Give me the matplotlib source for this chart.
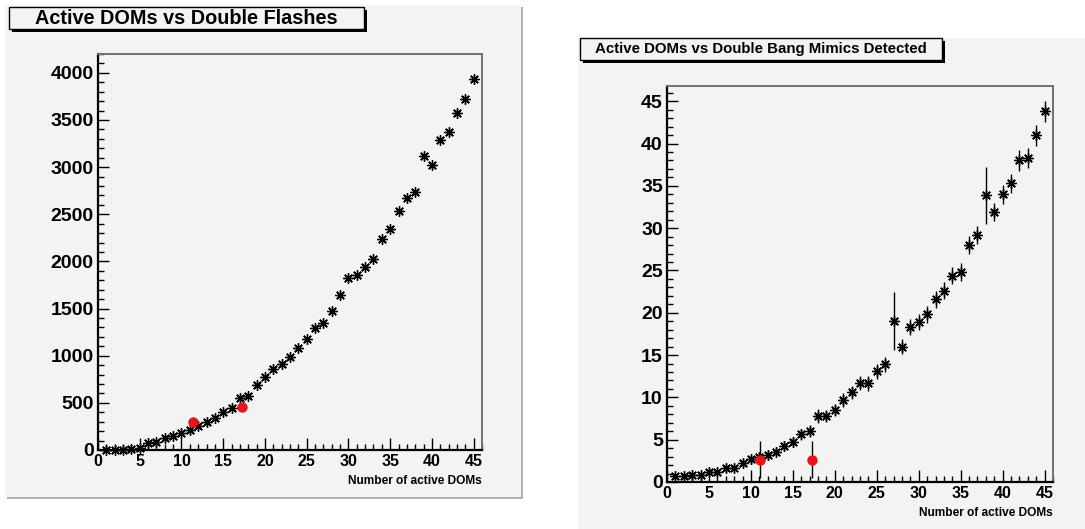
import numpy as np
import matplotlib
matplotlib.use('Agg')
import matplotlib.pyplot as plt
from matplotlib.patches import Rectangle
from matplotlib.ticker import MultipleLocator

plt.rcParams['font.family'] = ['Liberation Sans', 'DejaVu Sans']
plt.rcParams['font.weight'] = 'bold'

W, H = 1085, 529
CANVAS = '#f3f3f3'

# ---- data ----
doms = list(range(1, 46))
flashes = [0, 0, 0, 15, 20, 77, 80, 124, 148, 184,
           212, 254, 300, 343, 399, 449, 548, 573, 689, 771,
           859, 908, 983, 1085, 1174, 1297, 1343, 1474, 1644, 1821,
           1856, 1937, 2022, 2237, 2343, 2534, 2676, 2740, 3118, 3022,
           3287, 3369, 3577, 3722, 3934]
flash_red_x = [11.4, 17.25]
flash_red_y = [297, 456]

mimics = [0.71, 0.71, 0.83, 0.83, 1.14, 1.22, 1.61, 1.69, 2.2, 2.68,
          2.9, 3.19, 3.58, 4.29, 4.76, 5.67, 6.02, 7.79, 7.79, 8.5,
          9.68, 10.6, 11.73, 11.65, 13.1, 13.9, 19.0, 16.0, 18.3, 18.9,
          19.8, 21.6, 22.6, 24.4, 24.8, 28.0, 29.2, 33.9, 31.9, 34.0,
          35.3, 38.0, 38.3, 41.0, 43.8]
mimic_err = [0.3, 0.3, 0.3, 0.3, 0.35, 0.35, 0.4, 0.4, 0.45, 0.5,
             0.5, 0.55, 0.55, 0.6, 0.6, 0.65, 0.7, 0.8, 0.7, 0.75,
             0.8, 0.8, 0.85, 0.85, 0.9, 0.9, 3.4, 0.9, 0.95, 0.95,
             1.0, 1.0, 1.0, 1.05, 1.05, 1.1, 1.1, 3.35, 1.1, 1.15,
             1.15, 1.2, 1.2, 1.25, 1.25]
mimic_red_x = [11.1, 17.25]
mimic_red_y = [2.65, 2.65]
mimic_red_err = [2.2, 2.2]


def fbox(x0, y0, x1, y1):
    # pixel box (top-left origin) -> figure fraction rect
    return [x0 / W, 1 - y1 / H, (x1 - x0) / W, (y1 - y0) / H]


def canvas(fig, x0, y0, x1, y1, shadow=True):
    r = fbox(x0, y0, x1, y1)
    if shadow:
        s = fbox(x0 + 2, y0 + 2, x1 + 2, y1 + 2)
        fig.add_artist(Rectangle((s[0], s[1]), s[2], s[3], transform=fig.transFigure,
                                 facecolor='#b0b0b0', edgecolor='none', zorder=0))
    fig.add_artist(Rectangle((r[0], r[1]), r[2], r[3], transform=fig.transFigure,
                             facecolor=CANVAS, edgecolor='none', zorder=0))


def title_box(fig, x0, y0, x1, y1, text, size):
    s = fbox(x0 + 3, y0 + 3, x1, y1)
    fig.add_artist(Rectangle((s[0], s[1]), s[2], s[3], transform=fig.transFigure,
                             facecolor='black', edgecolor='none', zorder=1))
    r = fbox(x0, y0, x1 - 3, y1 - 3)
    fig.add_artist(Rectangle((r[0], r[1]), r[2], r[3], transform=fig.transFigure,
                             facecolor=CANVAS, edgecolor='black', lw=1.0, zorder=2))
    fig.text(r[0] + r[2] / 2, r[1] + r[3] / 2, text, ha='center', va='center',
             fontsize=size, fontweight='bold', zorder=3)


def style_axes(ax, ymax, ymajor, yminor, ysize):
    ax.set_facecolor(CANVAS)
    ax.set_xlim(0, 46)
    ax.set_ylim(0, ymax)
    ax.xaxis.set_major_locator(MultipleLocator(5))
    ax.xaxis.set_minor_locator(MultipleLocator(1))
    ax.yaxis.set_major_locator(MultipleLocator(ymajor))
    ax.yaxis.set_minor_locator(MultipleLocator(yminor))
    ax.tick_params(which='both', direction='in', width=1.0, color='black')
    ax.tick_params(axis='x', which='major', length=8.5, labelsize=11.5, pad=3)
    ax.tick_params(axis='x', which='minor', length=4)
    ax.tick_params(axis='y', which='major', length=8, labelsize=ysize, pad=3)
    ax.tick_params(axis='y', which='minor', length=4.5)
    for lab in ax.get_xticklabels() + ax.get_yticklabels():
        lab.set_fontweight('bold')
    ax.spines['left'].set_linewidth(1.6)
    ax.spines['bottom'].set_linewidth(1.6)
    ax.spines['top'].set_color('#707070')
    ax.spines['right'].set_color('#707070')
    ax.spines['top'].set_linewidth(1.4)
    ax.spines['right'].set_linewidth(1.4)
    ax.text(1.0, -0.0775, 'Number of active DOMs', transform=ax.transAxes,
            ha='right', va='center', fontsize=8.6, fontweight='bold')


def stars(ax, x, y):
    ax.plot(x, y, ls='none', marker=(8, 2, 0), ms=7.5, mew=1.0, color='black',
            clip_on=False, zorder=4)
    ax.plot(x, y, ls='none', marker='o', ms=2.5, color='black',
            clip_on=False, zorder=5)


fig = plt.figure(figsize=(W / 100, H / 100), dpi=100)
fig.patch.set_facecolor('white')

# left panel
canvas(fig, 5, 5, 521, 497)
title_box(fig, 9, 7, 367, 32, 'Active DOMs vs Double Flashes', 14.3)
ax1 = fig.add_axes(fbox(98, 54, 482, 450))
style_axes(ax1, 4200, 500, 100, 14)
stars(ax1, doms, flashes)
ax1.plot(flash_red_x, flash_red_y, ls='none', marker='o', ms=6.5,
         color='#e8141c', zorder=6)

# right panel
canvas(fig, 578, 38, 1085, 529, shadow=False)
title_box(fig, 580, 38, 945, 63, 'Active DOMs vs Double Bang Mimics Detected', 10.8)
ax2 = fig.add_axes(fbox(667, 86, 1053, 482))
style_axes(ax2, 46.8, 5, 1, 14)
ax2.errorbar(doms, mimics, yerr=mimic_err, fmt='none', ecolor='black',
             elinewidth=1.0, capsize=0, zorder=3)
stars(ax2, doms, mimics)
ax2.errorbar(mimic_red_x, mimic_red_y, yerr=mimic_red_err, fmt='none',
             ecolor='black', elinewidth=1.0, capsize=0, zorder=3)
ax2.plot(mimic_red_x, mimic_red_y, ls='none', marker='o', ms=6.5,
         color='#e8141c', zorder=6)

fig.savefig('out.png', dpi=100, facecolor='white')
